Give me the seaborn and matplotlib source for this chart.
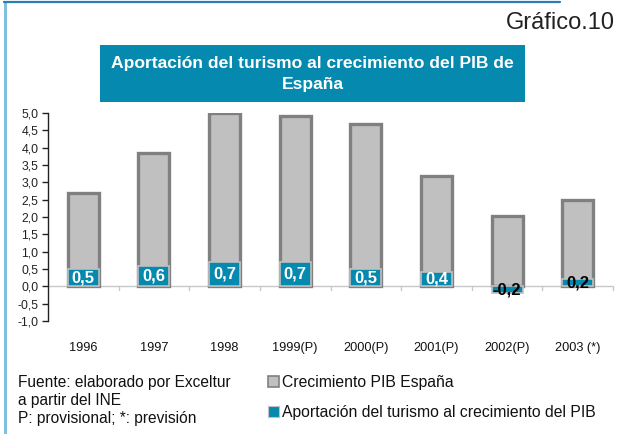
import matplotlib
matplotlib.use("Agg")
import matplotlib.pyplot as plt
from matplotlib.patches import Rectangle, Patch
from matplotlib.lines import Line2D
from matplotlib.ticker import FuncFormatter, MultipleLocator
import seaborn as sns
import pandas as pd

years = ["1996", "1997", "1998", "1999(P)", "2000(P)", "2001(P)", "2002(P)", "2003 (*)"]
pib_growth = [2.7, 3.85, 5.0, 4.9, 4.67, 3.18, 2.02, 2.48]
tourism_contrib = [0.5, 0.6, 0.7, 0.7, 0.5, 0.4, -0.2, 0.2]
series_names = ["Crecimiento PIB España", "Aportación del turismo al crecimiento del PIB"]
title_text = "Aportación del turismo al crecimiento del PIB de\nEspaña"
footer_lines = ["Fuente: elaborado por Exceltur", "a partir del INE", "P: provisional; *: previsión"]

GRAY = "#c0c0c0"
GRAY_EDGE = "#808080"
BLUE = "#0589ae"
FONT = ["Liberation Sans", "DejaVu Sans"]

sns.set_theme(style="white")
plt.rcParams["font.family"] = FONT

df = pd.DataFrame({"year": years, "pib": pib_growth, "tur": tourism_contrib})

W, H = 620, 434
fig = plt.figure(figsize=(W / 100, H / 100), dpi=100)
fig.patch.set_facecolor("white")

ax_l, ax_r, ax_t, ax_b = 48, 613, 113, 321
ax = fig.add_axes([ax_l / W, 1 - ax_b / H, (ax_r - ax_l) / W, (ax_b - ax_t) / H])
ax.set_facecolor("white")

sns.barplot(data=df, x="year", y="pib", color=GRAY, edgecolor=GRAY_EDGE,
            linewidth=2.4, width=0.44, saturation=1, ax=ax, zorder=2)
sns.barplot(data=df, x="year", y="tur", color=BLUE, edgecolor=GRAY,
            linewidth=1.2, width=0.44, saturation=1, ax=ax, zorder=3)

n = len(years)
ax.set_xlim(-0.5, n - 0.5)
ax.set_ylim(-1.0, 5.0)

# zero line with category separators
ax.axhline(0, color="#c8c8c8", lw=1.0, zorder=1)
for b in range(1, n + 1):
    ax.plot([b - 0.5, b - 0.5], [0, -0.12], color="#c8c8c8", lw=1.0, zorder=1, clip_on=False)

# value labels
for i, v in enumerate(tourism_contrib):
    col = "white" if abs(v) >= 0.4 else "black"
    ax.text(i, v / 2 + 0.0, f"{v:.1f}".replace(".", ","), ha="center", va="center",
            color=col, fontsize=12, fontweight="bold", zorder=5)

# spines and ticks
for s in ["top", "right", "bottom"]:
    ax.spines[s].set_visible(False)
ax.spines["left"].set_color("#222222")
ax.spines["left"].set_linewidth(1.0)
ax.yaxis.set_major_locator(MultipleLocator(0.5))
ax.yaxis.set_major_formatter(FuncFormatter(lambda v, p: f"{v:.1f}".replace(".", ",")))
ax.tick_params(axis="y", left=True, direction="out", length=4, width=1, color="#222222",
               labelsize=8.8, labelcolor="#222222", pad=3)
ax.tick_params(axis="x", bottom=False, length=0, labelsize=9.2, labelcolor="#111111", pad=15)
ax.set_xlabel("")
ax.set_ylabel("")
ax.grid(False)

# frame lines of the figure
fig.add_artist(Line2D([4.5 / W, 4.5 / W], [0, 1 - 2 / H], color="#7fbfe0", lw=2.2))
fig.add_artist(Line2D([4 / W, 560 / W], [1 - 1.5 / H, 1 - 1.5 / H], color="#2a7db5", lw=1.6))

# Gráfico label
fig.text(615 / W, 1 - 23 / H, "Gráfico.10", ha="right", va="center", fontsize=17, color="#222222")

# title box
bx0, bx1, by0, by1 = 100, 525, 45, 102
fig.add_artist(Rectangle((bx0 / W, 1 - by1 / H), (bx1 - bx0) / W, (by1 - by0) / H,
                         transform=fig.transFigure, facecolor=BLUE, edgecolor="none"))
fig.text((bx0 + bx1) / 2 / W, 1 - 74 / H, title_text, ha="center", va="center",
         fontsize=12.6, fontweight="bold", color="white", linespacing=1.55)

# footer text
for k, line in enumerate(footer_lines):
    fig.text(18 / W, 1 - (383 + 18 * k) / H, line, ha="left", va="center",
             fontsize=11.2, color="#111111")

# legend
handles = [Patch(facecolor=GRAY, edgecolor=GRAY_EDGE, linewidth=1.2),
           Patch(facecolor=BLUE, edgecolor=GRAY, linewidth=0.8)]
leg = fig.legend(handles, series_names, loc="upper left", bbox_to_anchor=(268 / W, 1 - 375 / H),
                 frameon=False, fontsize=11.3, handlelength=0.7, handleheight=0.7,
                 handletextpad=0.2, labelspacing=0.95, borderpad=0, borderaxespad=0)
for t in leg.get_texts():
    t.set_color("#111111")

fig.savefig("out.png", dpi=100, facecolor="white")
